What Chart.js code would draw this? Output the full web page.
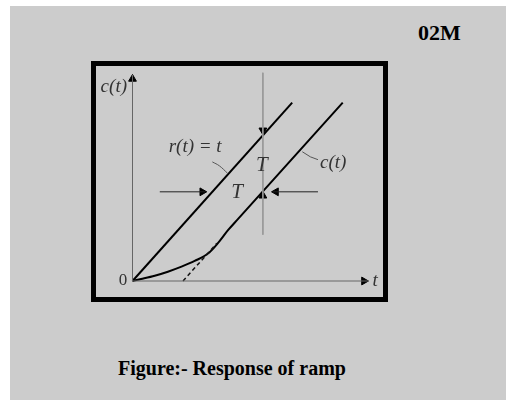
<!DOCTYPE html>
<html>
<head>
<meta charset="utf-8">
<script src="https://cdn.jsdelivr.net/npm/chart.js@4.4.1/dist/chart.umd.min.js"></script>
<style>
  html, body { margin: 0; padding: 0; background: #fff; }
  #page { position: absolute; left: 10px; top: 6px; width: 496px; height: 394px; background: #cccccc; }
  #tag { position: absolute; left: 418px; top: 20px; font: bold 22px "Liberation Serif", serif; color: #000; }
  #frame { position: absolute; left: 91px; top: 61px; width: 287px; height: 231px; border: 5px solid #000; }
  #caption { position: absolute; left: 118px; top: 357px; font: bold 20px "Liberation Serif", serif; color: #000; }
  #plot { position: absolute; left: 0; top: 0; }
</style>
</head>
<body>
<div id="page"></div>
<div id="tag">02M</div>
<div id="frame"></div>
<div id="caption">Figure:- Response of ramp</div>
<canvas id="plot" width="506" height="400"></canvas>
<script>
// time constant T = 1, both axes in the same units
const xMax = 4.66;
const yMax = 3.65;

// input ramp r(t) = t
const rampT = [0, 3.16];
const rampVal = [0, 3.16];

// output c(t): curved start, then parallel to the ramp, lagging by T
const respT = [0, 0.17, 0.44, 0.7, 0.97, 1.23, 1.5, 1.69, 1.89, 2.09, 4.16];
const respVal = [0, 0.035, 0.094, 0.165, 0.254, 0.355, 0.49, 0.67, 0.9, 1.1, 3.16];

// dashed extension of the steady-state line down to t = T
const asymT = [1, 1.67];
const asymVal = [0, 0.67];

// vertical marker line at t = 2.58
const vLineT = [2.58, 2.58];
const vLineVal = [3.69, 0.82];

// horizontal arrows measuring the lag T
const leftArrowT = [0.54, 1.44];
const rightArrowT = [3.67, 2.78];
const arrowLevel = 1.58;

// arrowheads: [t, value, rotation in degrees]
const heads = [
  [xMax - 0.08, 0, 90],
  [0, yMax - 0.07, 0],
  [2.58, 2.67, 180],
  [2.58, 1.51, 0],
  [1.38, arrowLevel, 90],
  [2.84, arrowLevel, 270]
];

// small leader strokes from labels to the curves
const rLeaderT = [1.58, 1.72, 1.88];
const rLeaderVal = [2.11, 2.04, 1.91];
const cLeaderT = [3.36, 3.52, 3.67];
const cLeaderVal = [2.29, 2.2, 2.15];

const labels = [
  { text: 'c(t)', x: -0.37, y: 3.44, size: 19 },
  { text: '0', x: -0.19, y: 0, size: 17, upright: true },
  { text: 't', x: 4.8, y: 0, size: 19 },
  { text: 'r(t) = t', x: 1.24, y: 2.37, size: 19 },
  { text: 'T', x: 2.56, y: 2.04, size: 21 },
  { text: 'T', x: 2.07, y: 1.57, size: 21 },
  { text: 'c(t)', x: 3.97, y: 2.09, size: 19 }
];

function pts(ts, vals) {
  return ts.map((t, i) => ({ x: t, y: vals[i] }));
}

function line(data, color, width, extra) {
  return Object.assign({
    data, showLine: true, borderColor: color, borderWidth: width,
    pointRadius: 0, fill: false, clip: false
  }, extra || {});
}

const textPlugin = {
  id: 'texts',
  afterDatasetsDraw(chart) {
    const { ctx, scales: { x, y } } = chart;
    ctx.save();
    ctx.fillStyle = '#333';
    ctx.textAlign = 'center';
    ctx.textBaseline = 'middle';
    labels.forEach(l => {
      ctx.font = (l.upright ? '' : 'italic ') + l.size + 'px "Liberation Serif", serif';
      ctx.fillText(l.text, x.getPixelForValue(l.x), y.getPixelForValue(l.y));
    });
    ctx.restore();
  }
};

new Chart(document.getElementById('plot'), {
  type: 'scatter',
  data: {
    datasets: [
      line(pts([0, xMax], [0, 0]), '#666', 1),
      line(pts([0, 0], [0, yMax]), '#666', 1),
      line(pts(vLineT, vLineVal), '#999', 1),
      line(pts(leftArrowT, [arrowLevel, arrowLevel]), '#222', 1),
      line(pts(rightArrowT, [arrowLevel, arrowLevel]), '#222', 1),
      line(pts(rLeaderT, rLeaderVal), '#555', 1, { tension: 0.4 }),
      line(pts(cLeaderT, cLeaderVal), '#555', 1),
      line(pts(asymT, asymVal), '#111', 1.5, { borderDash: [4, 3] }),
      line(pts(rampT, rampVal), '#000', 2),
      line(pts(respT, respVal), '#000', 2, { cubicInterpolationMode: 'monotone' }),
      {
        data: heads.map(h => ({ x: h[0], y: h[1] })),
        showLine: false,
        pointStyle: 'triangle',
        pointRadius: 4.5,
        pointRotation: heads.map(h => h[2]),
        backgroundColor: '#000',
        borderColor: '#000',
        borderWidth: 1,
        clip: false
      }
    ]
  },
  options: {
    responsive: false,
    animation: false,
    events: [],
    layout: { padding: { left: 132.5, right: 138, top: 75, bottom: 119 } },
    plugins: { legend: { display: false }, tooltip: { enabled: false } },
    scales: {
      x: { type: 'linear', min: 0, max: xMax, display: false },
      y: { type: 'linear', min: 0, max: yMax, display: false }
    }
  },
  plugins: [textPlugin]
});
</script>
</body>
</html>
